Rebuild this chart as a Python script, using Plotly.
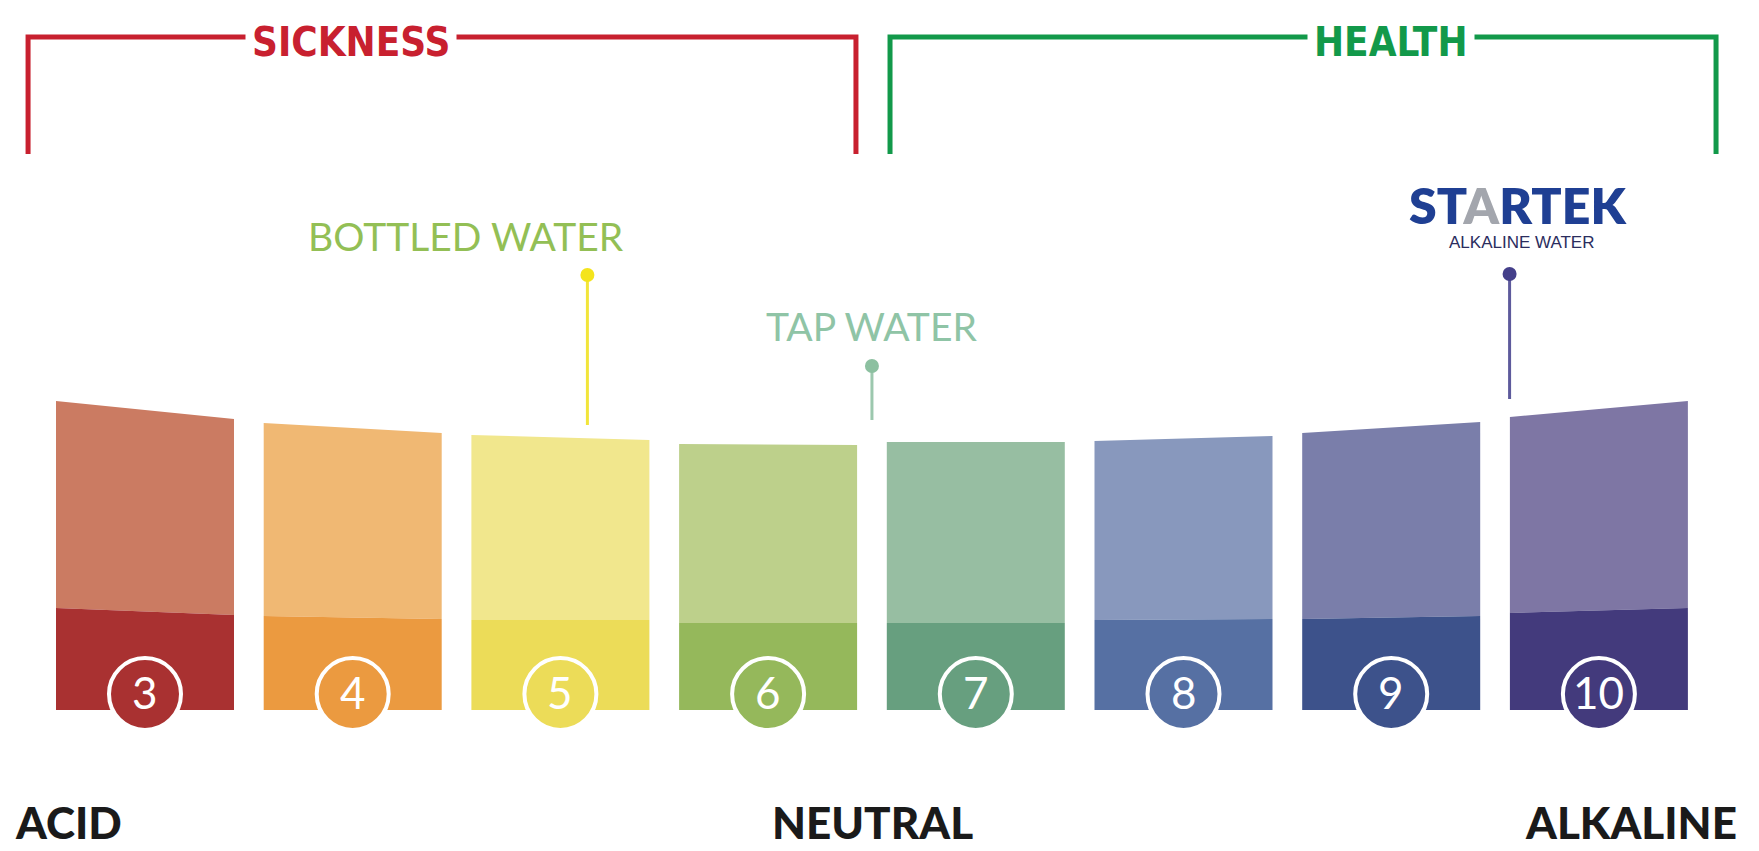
import plotly.graph_objects as go

# ---------------- data ----------------
ph_values = [3, 4, 5, 6, 7, 8, 9, 10]
ph_labels = ["3", "4", "5", "6", "7", "8", "9", "10"]
# bar heights (units above the bar base) at left / right edge of each bar
top_left = [309, 287, 275, 266, 268, 269, 277, 293]
top_right = [291, 277, 270, 265, 268, 274, 288, 309]
split_left = [102, 94, 90, 87, 87, 90, 91, 97]
split_right = [95, 91, 90, 87, 87, 91, 94, 102]
light_colors = ["#cb7b62", "#f0b873", "#f1e78d", "#bdd08b", "#97bea2", "#8898bd", "#7a7eaa", "#7e76a4"]
dark_colors = ["#a93131", "#eb9a40", "#ecdc58", "#95b85b", "#679f7f", "#5670a3", "#3d528b", "#433a7c"]

marker_names = ["BOTTLED WATER", "TAP WATER", "STARTEK"]
marker_ph = [5.13, 6.50, 9.57]
marker_dot = [435, 344, 436]
marker_base = [285, 290, 311]
marker_dot_colors = ["#f4e41c", "#8cc0a0", "#443f8a"]
marker_line_colors = ["#f2e53a", "#9cc8ae", "#5d5a9c"]

zone_names = ["SICKNESS", "HEALTH"]
zone_start = [2.437, 6.587]
zone_end = [6.423, 10.564]
zone_colors = ["#c8202f", "#12994a"]

scale_labels = ["ACID", "NEUTRAL", "ALKALINE"]

# ---------------- geometry helpers (layout only) ----------------
PX_PER_PH = 207.7
X0_PX = 145.0
BASE_PX = 710.0
W, H = 1759, 851
HALF = 0.4285


def X(px):
    return 3 + (px - X0_PX) / PX_PER_PH


def Y(py):
    return BASE_PX - py


fig = go.Figure()

# bars
for i, p in enumerate(ph_values):
    xl, xr = p - HALF, p + HALF
    fig.add_trace(go.Scatter(
        x=[xl, xr, xr, xl, xl],
        y=[top_left[i], top_right[i], split_right[i], split_left[i], top_left[i]],
        fill="toself", fillcolor=light_colors[i], mode="lines",
        line=dict(width=0, color=light_colors[i]), hoverinfo="skip"))
    fig.add_trace(go.Scatter(
        x=[xl, xr, xr, xl, xl],
        y=[split_left[i], split_right[i], 0, 0, split_left[i]],
        fill="toself", fillcolor=dark_colors[i], mode="lines",
        line=dict(width=0, color=dark_colors[i]), hoverinfo="skip"))

# pointers
for i in range(len(marker_names)):
    fig.add_trace(go.Scatter(
        x=[marker_ph[i], marker_ph[i]], y=[marker_dot[i], marker_base[i]],
        mode="lines", line=dict(width=3, color=marker_line_colors[i]), hoverinfo="skip"))
    fig.add_trace(go.Scatter(
        x=[marker_ph[i]], y=[marker_dot[i]], mode="markers",
        marker=dict(size=14, color=marker_dot_colors[i], line=dict(width=0)), hoverinfo="skip"))

shapes = []
annotations = []

# circles + numbers
for i, p in enumerate(ph_values):
    shapes.append(dict(type="circle", xref="x", yref="y", xsizemode="pixel", ysizemode="pixel",
                       xanchor=p, yanchor=Y(694), x0=-36, x1=36, y0=-36, y1=36,
                       fillcolor=dark_colors[i], line=dict(color="white", width=4), layer="above"))
    annotations.append(dict(x=p, y=Y(692), xref="x", yref="y", text=ph_labels[i], showarrow=False,
                            xanchor="center", yanchor="middle",
                            font=dict(family="Lato", size=44, color="white", weight=400)))

# brackets
for i in range(2):
    shapes.append(dict(type="path", xref="x", yref="y",
                       path=f"M {zone_start[i]},{Y(154)} L {zone_start[i]},{Y(37)} L {zone_end[i]},{Y(37)} L {zone_end[i]},{Y(154)}",
                       line=dict(color=zone_colors[i], width=5), layer="above"))

zone_label_px = [351, 1391]
for i in range(2):
    annotations.append(dict(x=X(zone_label_px[i]), y=Y(42), xref="x", yref="y", text=zone_names[i],
                            showarrow=False, xanchor="center", yanchor="middle", bgcolor="white",
                            borderpad=6,
                            font=dict(family="DejaVu Sans Condensed, DejaVu Sans", size=40,
                                      color=zone_colors[i], weight="bold")))

# pointer labels
annotations.append(dict(x=X(466), y=Y(236), xref="x", yref="y", text="BOTTLED WATER", showarrow=False,
                        xanchor="center", yanchor="middle",
                        font=dict(family="Lato", size=39, color="#93bf55", weight=400)))
annotations.append(dict(x=X(871), y=Y(326), xref="x", yref="y", text="TAP WATER", showarrow=False,
                        xanchor="center", yanchor="middle",
                        font=dict(family="Lato", size=39, color="#8fc4a6", weight=400)))
annotations.append(dict(x=X(1518), y=Y(205), xref="x", yref="y",
                        text="ST<span style='color:#a3a6ad'>A</span>RTEK", showarrow=False,
                        xanchor="center", yanchor="middle",
                        font=dict(family="Lato", size=50, color="#1f3f93", weight=800)))
annotations.append(dict(x=X(1521), y=Y(242), xref="x", yref="y", text="ALKALINE WATER", showarrow=False,
                        xanchor="center", yanchor="middle",
                        font=dict(family="Liberation Sans Narrow, Liberation Sans", size=17, color="#2b2d5e")))

# scale labels
scale_pos = [(13, "left"), (872, "center"), (1739, "right")]
for lab, (px, anc) in zip(scale_labels, scale_pos):
    annotations.append(dict(x=X(px), y=Y(822), xref="x", yref="y", text=lab, showarrow=False,
                            xanchor=anc, yanchor="middle",
                            font=dict(family="Lato", size=44, color="#1a1a1a", weight=900)))

fig.update_layout(
    width=W, height=H, margin=dict(l=0, r=0, t=0, b=0),
    paper_bgcolor="white", plot_bgcolor="white", showlegend=False, hovermode=False,
    xaxis=dict(range=[X(0), X(W)], visible=False, fixedrange=True),
    yaxis=dict(range=[Y(H), Y(0)], visible=False, fixedrange=True),
    shapes=shapes, annotations=annotations,
)

fig.write_html("out.html", config={"displayModeBar": False},
               post_script="document.body.style.margin='0';document.body.style.overflow='hidden';")
